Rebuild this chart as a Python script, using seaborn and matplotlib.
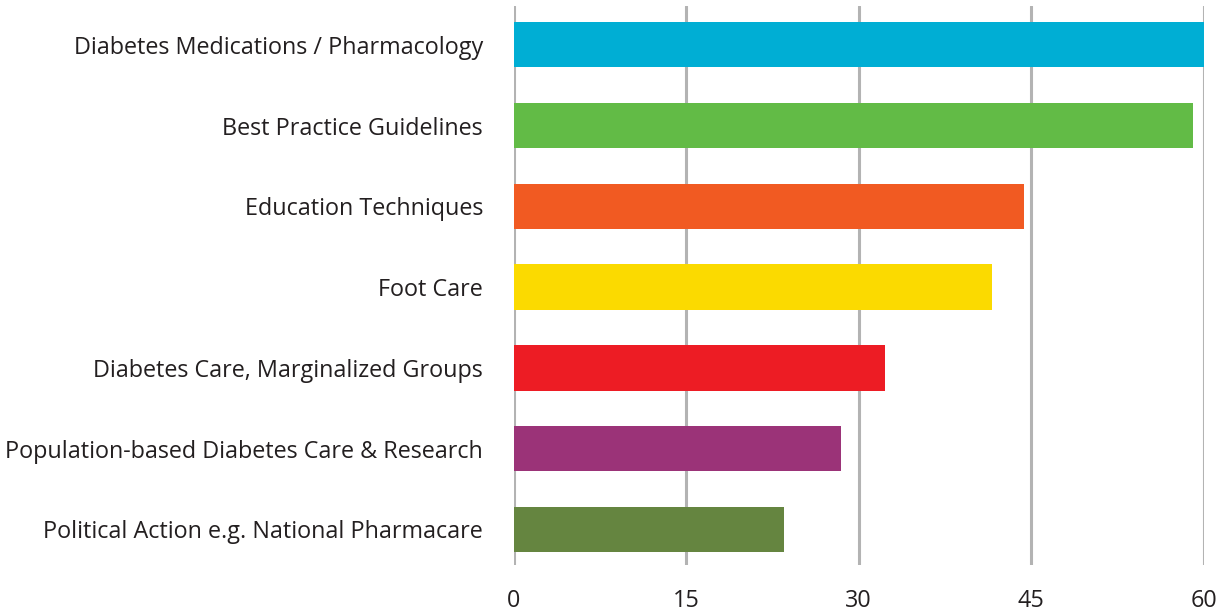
import pandas as pd
import matplotlib.pyplot as plt
import seaborn as sns

sns.set_style('white')
plt.rcParams['font.family'] = ['Open Sans', 'DejaVu Sans']

topics = [
    'Diabetes Medications / Pharmacology',
    'Best Practice Guidelines',
    'Education Techniques',
    'Foot Care',
    'Diabetes Care, Marginalized Groups',
    'Population-based Diabetes Care & Research',
    'Political Action e.g. National Pharmacare',
]
scores = [60.0, 59.1, 44.4, 41.6, 32.3, 28.5, 23.5]
bar_colors = ['#00AED4', '#62BB46', '#F15A22', '#FBDA00',
              '#ED1C24', '#9B3378', '#658540']
x_ticks = [0, 15, 30, 45, 60]

df = pd.DataFrame({'topic': topics, 'score': scores})

fig = plt.figure(figsize=(12.25, 6.15), dpi=100)
ax = fig.add_axes([513.5 / 1225, 50 / 615, 690 / 1225, 559 / 615])

sns.barplot(data=df, x='score', y='topic', hue='topic',
            palette=bar_colors, legend=False, width=0.56,
            saturation=1, linewidth=0, ax=ax, zorder=3)

ax.set_xlim(0, 60)
ax.set_ylim(6.44, -0.48)
ax.set_xticks(x_ticks)
ax.set_xticklabels([str(t) for t in x_ticks])
ax.grid(True, axis='x', color='#b3b3b3', linewidth=2.2, zorder=0)
ax.grid(False, axis='y')
for s in ax.spines.values():
    s.set_visible(False)
ax.set_xlabel('')
ax.set_ylabel('')
ax.tick_params(axis='x', length=0, pad=17, labelsize=16.8, labelcolor='#231f20')
ax.tick_params(axis='y', length=0, pad=22, labelsize=16.8, labelcolor='#231f20')

fig.savefig('out.png', dpi=100)
